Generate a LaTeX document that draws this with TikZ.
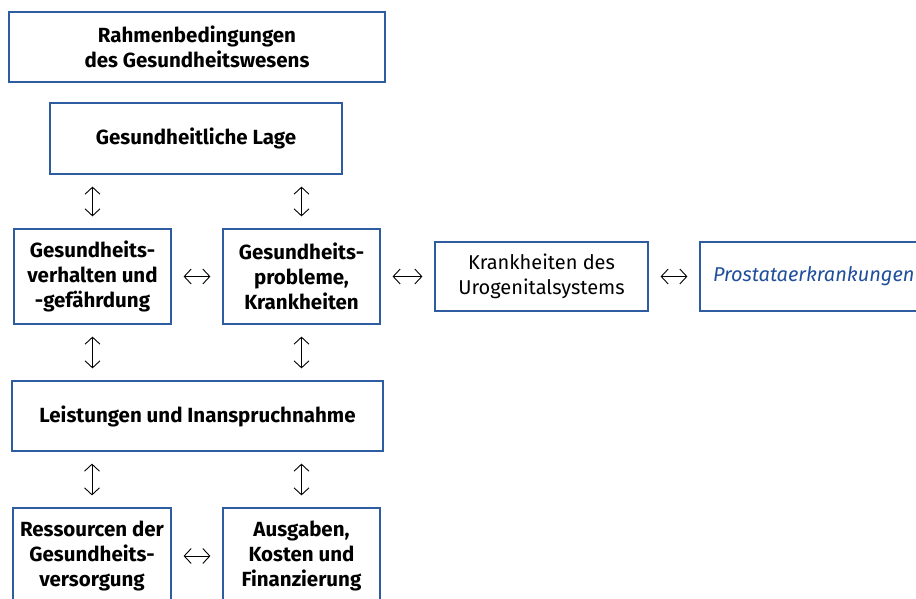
\documentclass[tikz,border=0pt]{standalone}
\usepackage{fontspec}
\setmainfont{Fira Sans}
\usetikzlibrary{positioning,calc,arrows.meta}
\definecolor{boxblue}{RGB}{46,92,160}
\definecolor{textblue}{RGB}{31,78,155}

\begin{document}
\begin{tikzpicture}[x=1pt, y=-1pt,
    box/.style={draw=boxblue, line width=1.2pt, align=center, inner sep=0pt,
        font=\fontsize{20.5}{25}\selectfont\bfseries},
    plain/.style={box, font=\fontsize{20}{25}\selectfont},
    arr/.style={{Straight Barb[length=7pt,width=15pt]}-{Straight Barb[length=7pt,width=15pt]},
        line width=0.9pt, shorten >=12pt, shorten <=12pt}]
    \clip (0,0) rectangle (916,598);

    % top boxes
    \node[box, minimum width=376pt, minimum height=70pt] (rahmen) at (197,47)
        {Rahmenbedingungen\\des Gesundheitswesens};
    \node[box, minimum width=292pt, minimum height=71pt] (lage) at (196,138.5)
        {Gesundheitliche Lage};

    % middle row
    \node[box, minimum width=157pt, minimum height=95pt] (verhalten) at (92.5,276.5)
        {Gesundheits-\\verhalten und\\-gefährdung};
    \node[box, minimum width=157pt, minimum height=95pt] (probleme) at (301.5,276.5)
        {Gesundheits-\\probleme,\\Krankheiten};
    \node[plain, minimum width=213pt, minimum height=69pt] (uro) at (541.5,276.5)
        {Krankheiten des\\Urogenitalsystems};
    \node[plain, minimum height=69pt, inner xsep=13pt, text width=214pt, align=left,
        text=textblue, font=\fontsize{20}{25}\selectfont\itshape] (prostata) at (820,276.5)
        {Prostataerkrankungen};

    % lower boxes
    \node[box, minimum width=371pt, minimum height=70pt] (leistung) at (197.5,416)
        {Leistungen und Inanspruchnahme};
    \node[box, minimum width=158pt, minimum height=96pt] (ressourcen) at (92,556)
        {Ressourcen der\\Gesundheits-\\versorgung};
    \node[box, minimum width=157pt, minimum height=96pt] (ausgaben) at (301.5,556)
        {Ausgaben,\\Kosten und\\Finanzierung};

    % vertical arrows
    \draw[arr] (lage.south -| verhalten.north) -- (verhalten.north);
    \draw[arr] (lage.south -| probleme.north) -- (probleme.north);
    \draw[arr] (verhalten.south) -- (leistung.north -| verhalten.south);
    \draw[arr] (probleme.south) -- (leistung.north -| probleme.south);
    \draw[arr] (leistung.south -| ressourcen.north) -- (ressourcen.north);
    \draw[arr] (leistung.south -| ausgaben.north) -- (ausgaben.north);

    % horizontal arrows
    \draw[arr] (verhalten) -- (probleme);
    \draw[arr] (probleme.east) -- (uro.west);
    \draw[arr] (uro.east) -- (prostata.west);
    \draw[arr] (ressourcen) -- (ausgaben);
\end{tikzpicture}
\end{document}
